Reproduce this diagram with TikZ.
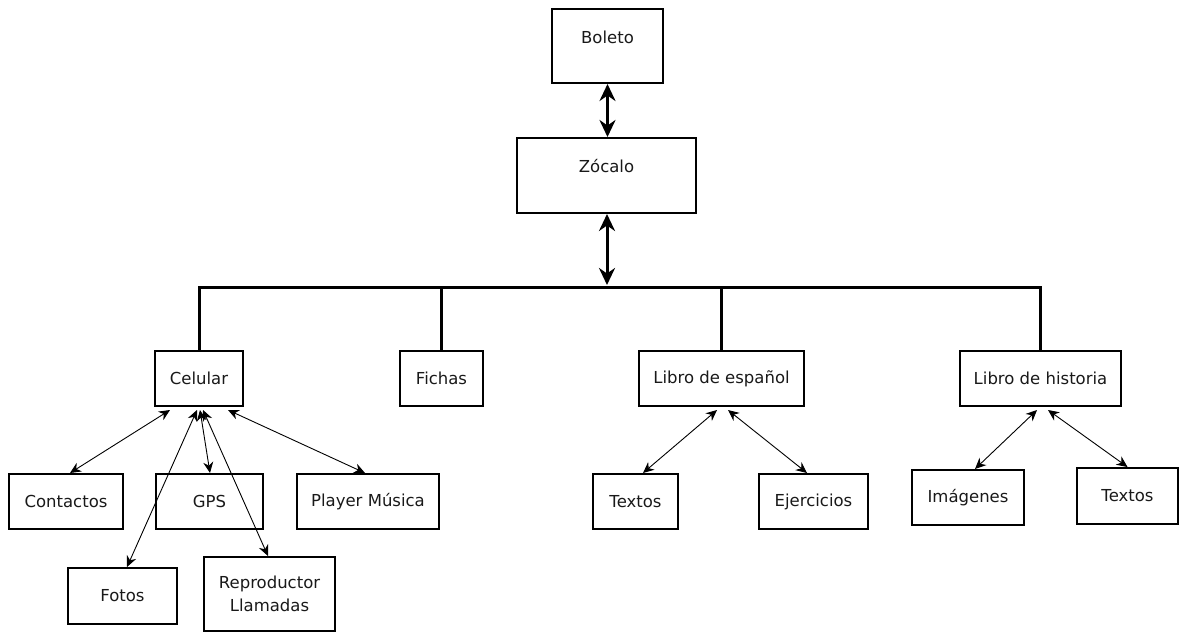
\documentclass[tikz,border=0pt]{standalone}
\usepackage{fontspec}
\setmainfont{DejaVu Sans}
\usetikzlibrary{arrows.meta}

\begin{document}
\begin{tikzpicture}[x=1pt, y=-1pt,
  caja/.style={draw, line width=2pt, inner sep=0pt, align=center,
    font=\fontsize{16.5}{23}\selectfont, text=black!90},
  cajaalta/.style={caja, text height=12pt, text depth=18pt},
  flechagrande/.style={line width=3pt, {Stealth[length=17pt,width=16pt]}-{Stealth[length=17pt,width=16pt]}},
  flecha/.style={line width=0.9pt, {Stealth[length=11pt,width=10pt]}-{Stealth[length=11pt,width=10pt]}},
  tronco/.style={line width=3pt}]
  \useasboundingbox (0,0) rectangle (1182,632);

  % top
  \node[cajaalta, minimum width=111pt, minimum height=74pt] (boleto) at (607.5,46) {Boleto};
  \node[cajaalta, minimum width=179pt, minimum height=75pt] (zocalo) at (606.5,175.5) {Zócalo};
  \coordinate (bus) at (607,287);

  % second row
  \node[caja, minimum width=88pt, minimum height=55pt] (celular) at (199,378.5) {Celular};
  \node[caja, minimum width=83pt, minimum height=55pt] (fichas) at (441.5,378.5) {Fichas};
  \node[caja, minimum width=165pt, minimum height=55pt] (espanol) at (721.5,378.5) {Libro de español};
  \node[caja, minimum width=161pt, minimum height=55pt] (historia) at (1040.5,378.5) {Libro de historia};

  % leaves
  \node[caja, minimum width=114pt, minimum height=55pt] (contactos) at (66,501.5) {Contactos};
  \node[caja, minimum width=107pt, minimum height=55pt] (gps) at (209.5,501.5) {GPS};
  \node[caja, minimum width=142pt, minimum height=55pt] (player) at (368,501.5) {Player Música};
  \node[caja, minimum width=109pt, minimum height=56pt] (fotos) at (122.5,596) {Fotos};
  \node[caja, minimum width=131pt, minimum height=74pt] (reproductor) at (269.5,594) {Reproductor\\Llamadas};
  \node[caja, minimum width=85pt, minimum height=55pt] (textosesp) at (635.5,501.5) {Textos};
  \node[caja, minimum width=109pt, minimum height=55pt] (ejercicios) at (813.5,501.5) {Ejercicios};
  \node[caja, minimum width=112pt, minimum height=55pt] (imagenes) at (968,497.5) {Imágenes};
  \node[caja, minimum width=101pt, minimum height=56pt] (textoshist) at (1127.5,496) {Textos};

  \draw[flechagrande] (boleto.south) -- (boleto.south |- zocalo.north);
  \draw[flechagrande] (zocalo.south -| bus) -- ([yshift=2pt]bus);

  \draw[tronco] (celular.north) -- (celular.north |- bus) -| (historia.north);
  \draw[tronco] (fichas.north) -- (fichas.north |- bus);
  \draw[tronco] (espanol.north) -- (espanol.north |- bus);

  \draw[flecha] ([xshift=-29pt,yshift=-3pt]celular.south) -- ([xshift=4pt]contactos.north);
  \draw[flecha] ([xshift=-2pt,yshift=-3pt]celular.south) -- ([xshift=4.5pt]fotos.north);
  \draw[flecha] ([xshift=1pt,yshift=-3pt]celular.south) -- ([xshift=0.5pt]gps.north);
  \draw[flecha] ([xshift=4pt,yshift=-3pt]celular.south) -- ([xshift=-1.5pt]reproductor.north);
  \draw[flecha] ([xshift=29pt,yshift=-3pt]celular.south) -- ([xshift=-3pt]player.north);

  \draw[flecha] ([xshift=-4.5pt,yshift=-3pt]espanol.south) -- ([xshift=7.5pt]textosesp.north);
  \draw[flecha] ([xshift=6.5pt,yshift=-3pt]espanol.south) -- ([xshift=-6.5pt]ejercicios.north);
  \draw[flecha] ([xshift=-3.5pt,yshift=-3pt]historia.south) -- ([xshift=7pt]imagenes.north);
  \draw[flecha] ([xshift=7.5pt,yshift=-3pt]historia.south) -- (textoshist.north);
\end{tikzpicture}
\end{document}
